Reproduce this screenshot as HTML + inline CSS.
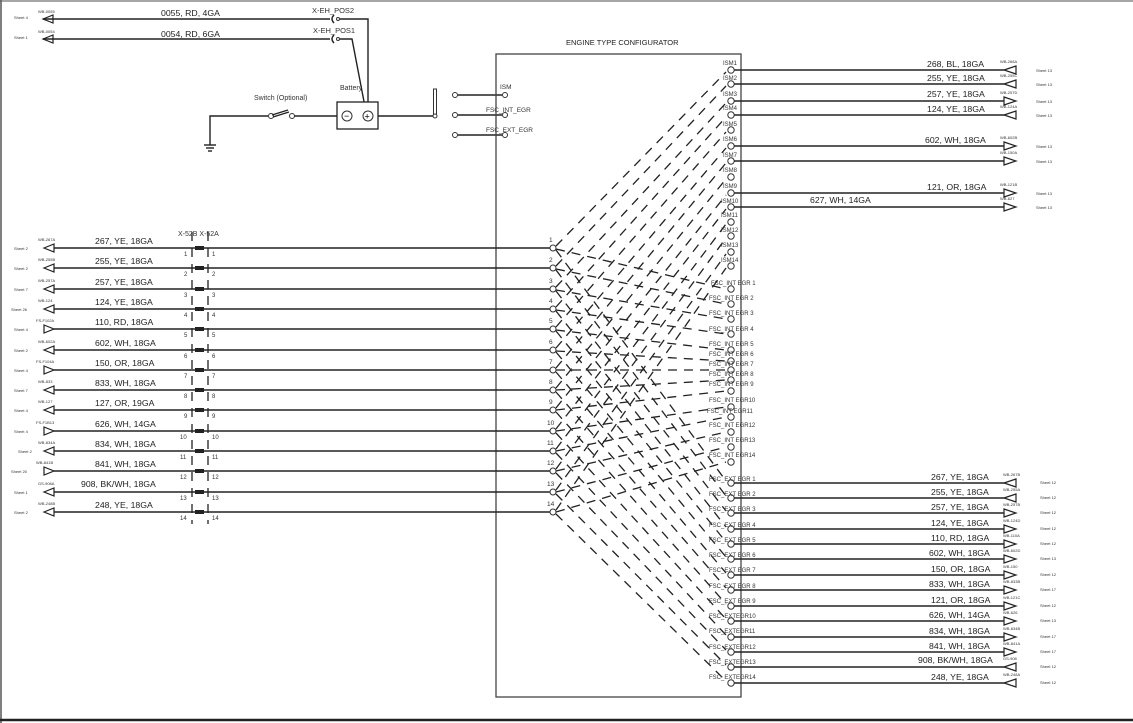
<!DOCTYPE html>
<html><head><meta charset="utf-8"><style>
html,body{margin:0;padding:0;background:#fff;}
svg{display:block;font-family:"Liberation Sans",sans-serif;}
.w{stroke:#222;stroke-width:1.4;fill:none}
.d{stroke:#222;stroke-width:1.3;stroke-dasharray:9,7;fill:none}
.c{fill:#fff;stroke:#333;stroke-width:1}
.t{font-size:8.7px;fill:#222}
.s{font-size:4px;fill:#333}
.p{font-size:6.5px;fill:#333}
.tr{fill:#fff;stroke:#222;stroke-width:1.2}
</style></head><body>
<svg width="1133" height="723" viewBox="0 0 1133 723" xmlns="http://www.w3.org/2000/svg">
<line x1="0" y1="1" x2="1133" y2="1" stroke="#888" stroke-width="1.5"/>
<line x1="1" y1="0" x2="1" y2="723" stroke="#555" stroke-width="1.5"/>
<line x1="0" y1="720" x2="1133" y2="720" stroke="#222" stroke-width="2.5"/>

<!-- top battery section -->
<text class="s" x="14" y="19">Sheet 4</text><text class="s" x="38" y="13">WB-0055</text>
<polygon class="tr" points="43,19 53,15 53,23"/><line class="w" x1="43" y1="19" x2="330" y2="19"/>
<text class="t" x="161" y="16">0055, RD, 4GA</text>
<text class="s" x="14" y="39">Sheet 1</text><text class="s" x="38" y="33">WB-0054</text>
<polygon class="tr" points="43,39 53,35 53,43"/><line class="w" x1="43" y1="39" x2="330" y2="39"/>
<text class="t" x="161" y="37">0054, RD, 6GA</text>
<text class="p" x="312" y="13" style="font-size:7.5px">X-EH_POS2</text>
<text class="p" x="313" y="33" style="font-size:7.5px">X-EH_POS1</text>
<path class="w" d="M334,15 Q330,19 334,23" stroke-width="1"/><circle class="c" cx="338" cy="19" r="1.5"/>
<path class="w" d="M334,35 Q330,39 334,43" stroke-width="1"/><circle class="c" cx="338" cy="39" r="1.5"/>
<polyline class="w" points="340,19 368,19 368,112"/>
<polyline class="w" points="340,39 352,39 366,112"/>
<text class="p" x="340" y="90" style="font-size:7px">Battery</text>
<rect x="337" y="102" width="41" height="27" fill="#fff" stroke="#222" stroke-width="1.3"/>
<circle class="c" cx="347" cy="116" r="5"/><text x="344" y="119" style="font-size:9px">−</text>
<circle class="c" cx="368" cy="116" r="5"/><text x="364.5" y="119.5" style="font-size:9px">+</text>
<line class="w" x1="378" y1="116" x2="435" y2="116"/>
<rect x="433.5" y="89" width="3" height="27" fill="#fff" stroke="#333"/>
<circle class="c" cx="435" cy="116" r="2"/>
<text class="p" x="254" y="100" style="font-size:7px">Switch (Optional)</text>
<polyline class="w" points="337,116 292,116"/>
<circle class="c" cx="292" cy="116" r="2.5"/><circle class="c" cx="271" cy="116" r="2.5"/>
<line class="w" x1="272" y1="115" x2="288" y2="110"/><line class="w" x1="273" y1="117" x2="289" y2="112"/>
<polyline class="w" points="268,116 210,116 210,145"/>
<line class="w" x1="204" y1="145" x2="216" y2="145"/><line class="w" x1="206" y1="148" x2="214" y2="148"/><line class="w" x1="208" y1="151" x2="212" y2="151"/>

<circle class="c" cx="455" cy="95" r="2.5"/><line class="w" x1="458" y1="95" x2="502" y2="95"/><circle class="c" cx="505" cy="95" r="2.5"/><text class="p" x="500" y="89">ISM</text>
<circle class="c" cx="455" cy="115" r="2.5"/><line class="w" x1="458" y1="115" x2="502" y2="115"/><circle class="c" cx="505" cy="115" r="2.5"/><text class="p" x="486" y="112">FSC_INT_EGR</text>
<circle class="c" cx="455" cy="135" r="2.5"/><line class="w" x1="458" y1="135" x2="502" y2="135"/><circle class="c" cx="505" cy="135" r="2.5"/><text class="p" x="486" y="132">FSC_EXT_EGR</text>

<!-- configurator box -->
<text x="566" y="45" style="font-size:7.5px;fill:#222">ENGINE TYPE CONFIGURATOR</text>
<rect x="496" y="54" width="245" height="643" fill="none" stroke="#444" stroke-width="1.3"/>

<g class="d">
<line x1="556" y1="246" x2="726" y2="72"/><line x1="556" y1="266" x2="726" y2="86"/><line x1="556" y1="287" x2="726" y2="103"/><line x1="556" y1="307" x2="726" y2="117"/><line x1="556" y1="327" x2="726" y2="132"/><line x1="556" y1="348" x2="726" y2="148"/><line x1="556" y1="368" x2="726" y2="163"/><line x1="556" y1="388" x2="726" y2="179"/><line x1="556" y1="408" x2="726" y2="195"/><line x1="556" y1="429" x2="726" y2="209"/><line x1="556" y1="449" x2="726" y2="224"/><line x1="556" y1="469" x2="726" y2="238"/><line x1="556" y1="490" x2="726" y2="254"/><line x1="556" y1="510" x2="726" y2="268"/>
<line x1="556" y1="249" x2="726" y2="289"/><line x1="556" y1="269" x2="726" y2="304"/><line x1="556" y1="290" x2="726" y2="319"/><line x1="556" y1="310" x2="726" y2="334"/><line x1="556" y1="330" x2="726" y2="350"/><line x1="556" y1="351" x2="726" y2="361"/><line x1="556" y1="370" x2="726" y2="370"/><line x1="556" y1="390" x2="726" y2="380"/><line x1="556" y1="410" x2="726" y2="391"/><line x1="556" y1="431" x2="726" y2="407"/><line x1="556" y1="451" x2="726" y2="417"/><line x1="556" y1="471" x2="726" y2="432"/><line x1="556" y1="492" x2="726" y2="447"/><line x1="556" y1="512" x2="726" y2="462"/>
<line x1="556" y1="250" x2="726" y2="481"/><line x1="556" y1="270" x2="726" y2="496"/><line x1="556" y1="291" x2="726" y2="511"/><line x1="556" y1="311" x2="726" y2="527"/><line x1="556" y1="331" x2="726" y2="542"/><line x1="556" y1="352" x2="726" y2="557"/><line x1="556" y1="372" x2="726" y2="573"/><line x1="556" y1="392" x2="726" y2="588"/><line x1="556" y1="412" x2="726" y2="604"/><line x1="556" y1="433" x2="726" y2="619"/><line x1="556" y1="453" x2="726" y2="635"/><line x1="556" y1="473" x2="726" y2="650"/><line x1="556" y1="494" x2="726" y2="665"/><line x1="556" y1="514" x2="726" y2="681"/>
</g>

<!-- left rows -->
<g>
<line class="d" x1="192" y1="232" x2="192" y2="524" stroke-dasharray="5,6"/>
<line class="d" x1="208" y1="232" x2="208" y2="524" stroke-dasharray="5,6"/>
<text class="p" x="178" y="236" style="font-size:7px">X-52B X-52A</text>
<line class="w" x1="54" y1="248" x2="550" y2="248"/><line class="w" x1="54" y1="268" x2="550" y2="268"/><line class="w" x1="54" y1="289" x2="550" y2="289"/><line class="w" x1="54" y1="309" x2="550" y2="309"/><line class="w" x1="54" y1="329" x2="550" y2="329"/><line class="w" x1="54" y1="350" x2="550" y2="350"/><line class="w" x1="54" y1="370" x2="550" y2="370"/><line class="w" x1="54" y1="390" x2="550" y2="390"/><line class="w" x1="54" y1="410" x2="550" y2="410"/><line class="w" x1="54" y1="431" x2="550" y2="431"/><line class="w" x1="54" y1="451" x2="550" y2="451"/><line class="w" x1="54" y1="471" x2="550" y2="471"/><line class="w" x1="54" y1="492" x2="550" y2="492"/><line class="w" x1="54" y1="512" x2="550" y2="512"/>
<g fill="#222">
<rect x="195" y="246" width="9" height="4"/><rect x="195" y="266" width="9" height="4"/><rect x="195" y="287" width="9" height="4"/><rect x="195" y="307" width="9" height="4"/><rect x="195" y="327" width="9" height="4"/><rect x="195" y="348" width="9" height="4"/><rect x="195" y="368" width="9" height="4"/><rect x="195" y="388" width="9" height="4"/><rect x="195" y="408" width="9" height="4"/><rect x="195" y="429" width="9" height="4"/><rect x="195" y="449" width="9" height="4"/><rect x="195" y="469" width="9" height="4"/><rect x="195" y="490" width="9" height="4"/><rect x="195" y="510" width="9" height="4"/>
</g>
<g class="tr">
<polygon points="44,248 54,244 54,252"/><polygon points="44,268 54,264 54,272"/><polygon points="44,289 54,285 54,293"/><polygon points="44,309 54,305 54,313"/><polygon points="44,325 54,329 44,333"/><polygon points="44,350 54,346 54,354"/><polygon points="44,366 54,370 44,374"/><polygon points="44,390 54,386 54,394"/><polygon points="44,410 54,406 54,414"/><polygon points="44,427 54,431 44,435"/><polygon points="44,451 54,447 54,455"/><polygon points="44,467 54,471 44,475"/><polygon points="44,492 54,488 54,496"/><polygon points="44,512 54,508 54,516"/>
</g>
<g class="t">
<text x="95" y="244">267, YE, 18GA</text><text x="95" y="264">255, YE, 18GA</text><text x="95" y="285">257, YE, 18GA</text><text x="95" y="305">124, YE, 18GA</text><text x="95" y="325">110, RD, 18GA</text><text x="95" y="346">602, WH, 18GA</text><text x="95" y="366">150, OR, 18GA</text><text x="95" y="386">833, WH, 18GA</text><text x="95" y="406">127, OR, 19GA</text><text x="95" y="427">626, WH, 14GA</text><text x="95" y="447">834, WH, 18GA</text><text x="95" y="467">841, WH, 18GA</text><text x="81" y="487">908, BK/WH, 18GA</text><text x="95" y="508">248, YE, 18GA</text>
</g>
<g class="s">
<text x="14" y="250">Sheet 2</text><text x="14" y="270">Sheet 2</text><text x="14" y="291">Sheet 7</text><text x="11" y="311">Sheet 26</text><text x="14" y="331">Sheet 4</text><text x="14" y="352">Sheet 2</text><text x="14" y="372">Sheet 4</text><text x="14" y="392">Sheet 7</text><text x="14" y="412">Sheet 4</text><text x="14" y="433">Sheet 4</text><text x="18" y="453">Sheet 2</text><text x="11" y="473">Sheet 20</text><text x="14" y="494">Sheet 1</text><text x="14" y="514">Sheet 2</text>
<text x="38" y="241">WB-267A</text><text x="38" y="261">WB-255B</text><text x="38" y="282">WB-257A</text><text x="38" y="302">WB-124</text><text x="36" y="322">FS-F102A</text><text x="38" y="343">WB-602A</text><text x="36" y="363">FS-F104A</text><text x="38" y="383">WB-833</text><text x="38" y="403">WB-127</text><text x="36" y="424">FS-F1B13</text><text x="38" y="444">WB-834A</text><text x="36" y="464">WB-841B</text><text x="38" y="485">GS-908A</text><text x="38" y="505">WB-248B</text>
</g>
<g class="p" style="font-size:6px">
<text x="184" y="256">1</text><text x="212" y="256">1</text><text x="184" y="276">2</text><text x="212" y="276">2</text><text x="184" y="297">3</text><text x="212" y="297">3</text><text x="184" y="317">4</text><text x="212" y="317">4</text><text x="184" y="337">5</text><text x="212" y="337">5</text><text x="184" y="358">6</text><text x="212" y="358">6</text><text x="184" y="378">7</text><text x="212" y="378">7</text><text x="184" y="398">8</text><text x="212" y="398">8</text><text x="184" y="418">9</text><text x="212" y="418">9</text><text x="180" y="439">10</text><text x="212" y="439">10</text><text x="180" y="459">11</text><text x="212" y="459">11</text><text x="180" y="479">12</text><text x="212" y="479">12</text><text x="180" y="500">13</text><text x="212" y="500">13</text><text x="180" y="520">14</text><text x="212" y="520">14</text>
</g>
<g class="c">
<circle cx="553" cy="248" r="3"/><circle cx="553" cy="268" r="3"/><circle cx="553" cy="289" r="3"/><circle cx="553" cy="309" r="3"/><circle cx="553" cy="329" r="3"/><circle cx="553" cy="350" r="3"/><circle cx="553" cy="370" r="3"/><circle cx="553" cy="390" r="3"/><circle cx="553" cy="410" r="3"/><circle cx="553" cy="431" r="3"/><circle cx="553" cy="451" r="3"/><circle cx="553" cy="471" r="3"/><circle cx="553" cy="492" r="3"/><circle cx="553" cy="512" r="3"/>
</g>
<g class="p">
<text x="549" y="242">1</text><text x="549" y="262">2</text><text x="549" y="283">3</text><text x="549" y="303">4</text><text x="549" y="323">5</text><text x="549" y="344">6</text><text x="549" y="364">7</text><text x="549" y="384">8</text><text x="549" y="404">9</text><text x="547" y="425">10</text><text x="547" y="445">11</text><text x="547" y="465">12</text><text x="547" y="486">13</text><text x="547" y="506">14</text>
</g>
</g>

<!-- right pins -->
<g class="c">
<circle cx="731" cy="70" r="3.2"/><circle cx="731" cy="84" r="3.2"/><circle cx="731" cy="101" r="3.2"/><circle cx="731" cy="115" r="3.2"/><circle cx="731" cy="130" r="3.2"/><circle cx="731" cy="146" r="3.2"/><circle cx="731" cy="161" r="3.2"/><circle cx="731" cy="177" r="3.2"/><circle cx="731" cy="193" r="3.2"/><circle cx="731" cy="207" r="3.2"/><circle cx="731" cy="222" r="3.2"/><circle cx="731" cy="236" r="3.2"/><circle cx="731" cy="252" r="3.2"/><circle cx="731" cy="266" r="3.2"/>
<circle cx="731" cy="289" r="3.2"/><circle cx="731" cy="304" r="3.2"/><circle cx="731" cy="319" r="3.2"/><circle cx="731" cy="334" r="3.2"/><circle cx="731" cy="350" r="3.2"/><circle cx="731" cy="361" r="3.2"/><circle cx="731" cy="370" r="3.2"/><circle cx="731" cy="380" r="3.2"/><circle cx="731" cy="391" r="3.2"/><circle cx="731" cy="407" r="3.2"/><circle cx="731" cy="417" r="3.2"/><circle cx="731" cy="432" r="3.2"/><circle cx="731" cy="447" r="3.2"/><circle cx="731" cy="462" r="3.2"/>
<circle cx="731" cy="483" r="3.2"/><circle cx="731" cy="498" r="3.2"/><circle cx="731" cy="513" r="3.2"/><circle cx="731" cy="529" r="3.2"/><circle cx="731" cy="544" r="3.2"/><circle cx="731" cy="559" r="3.2"/><circle cx="731" cy="575" r="3.2"/><circle cx="731" cy="590" r="3.2"/><circle cx="731" cy="606" r="3.2"/><circle cx="731" cy="621" r="3.2"/><circle cx="731" cy="637" r="3.2"/><circle cx="731" cy="652" r="3.2"/><circle cx="731" cy="667" r="3.2"/><circle cx="731" cy="683" r="3.2"/>
</g>
<g class="p" style="font-size:6px">
<text x="723" y="65">ISM1</text><text x="723" y="80">ISM2</text><text x="723" y="96">ISM3</text><text x="723" y="110">ISM4</text><text x="723" y="126">ISM5</text><text x="723" y="141">ISM6</text><text x="723" y="157">ISM7</text><text x="723" y="172">ISM8</text><text x="723" y="188">ISM9</text><text x="721" y="203">ISM10</text><text x="721" y="217">ISM11</text><text x="721" y="232">ISM12</text><text x="721" y="247">ISM13</text><text x="721" y="262">ISM14</text>
<text x="711" y="285">FSC_INT EGR 1</text><text x="709" y="300">FSC_INT EGR 2</text><text x="709" y="315">FSC_INT EGR 3</text><text x="709" y="331">FSC_INT EGR 4</text><text x="709" y="346">FSC_INT EGR 5</text><text x="709" y="356">FSC_INT EGR 6</text><text x="709" y="366">FSC_INT EGR 7</text><text x="709" y="376">FSC_INT EGR 8</text><text x="709" y="386">FSC_INT EGR 9</text><text x="709" y="402">FSC_INT EGR10</text><text x="707" y="413">FSC_INT EGR11</text><text x="709" y="427">FSC_INT EGR12</text><text x="709" y="442">FSC_INT EGR13</text><text x="709" y="457">FSC_INT EGR14</text>
<text x="709" y="481">FSC_EXT EGR 1</text><text x="709" y="496">FSC_EXT EGR 2</text><text x="709" y="511">FSC_EXT EGR 3</text><text x="709" y="527">FSC_EXT EGR 4</text><text x="709" y="542">FSC_EXT EGR 5</text><text x="709" y="557">FSC_EXT EGR 6</text><text x="709" y="572">FSC_EXT EGR 7</text><text x="709" y="588">FSC_EXT EGR 8</text><text x="709" y="603">FSC_EXT EGR 9</text><text x="709" y="618">FSC_EXTEGR10</text><text x="709" y="633">FSC_EXTEGR11</text><text x="709" y="649">FSC_EXTEGR12</text><text x="709" y="664">FSC_EXTEGR13</text><text x="709" y="679">FSC_EXTEGR14</text>
</g>

<g class="w">
<line x1="734" y1="70" x2="1004" y2="70"/><line x1="734" y1="84" x2="1004" y2="84"/><line x1="734" y1="101" x2="1004" y2="101"/><line x1="734" y1="115" x2="1004" y2="115"/><line x1="734" y1="146" x2="1004" y2="146"/><line x1="734" y1="161" x2="1004" y2="161"/><line x1="734" y1="193" x2="1004" y2="193"/><line x1="734" y1="207" x2="1004" y2="207"/>
<line x1="734" y1="483" x2="1004" y2="483"/><line x1="734" y1="498" x2="1004" y2="498"/><line x1="734" y1="513" x2="1004" y2="513"/><line x1="734" y1="529" x2="1004" y2="529"/><line x1="734" y1="544" x2="1004" y2="544"/><line x1="734" y1="559" x2="1004" y2="559"/><line x1="734" y1="575" x2="1004" y2="575"/><line x1="734" y1="590" x2="1004" y2="590"/><line x1="734" y1="606" x2="1004" y2="606"/><line x1="734" y1="621" x2="1004" y2="621"/><line x1="734" y1="637" x2="1004" y2="637"/><line x1="734" y1="652" x2="1004" y2="652"/><line x1="734" y1="667" x2="1004" y2="667"/><line x1="734" y1="683" x2="1004" y2="683"/>
</g>
<g class="tr">
<polygon points="1004,70 1016,66 1016,74"/><polygon points="1004,84 1016,80 1016,88"/><polygon points="1004,97 1016,101 1004,105"/><polygon points="1004,115 1016,111 1016,119"/><polygon points="1004,142 1016,146 1004,150"/><polygon points="1004,157 1016,161 1004,165"/><polygon points="1004,189 1016,193 1004,197"/><polygon points="1004,203 1016,207 1004,211"/>
<polygon points="1004,483 1016,479 1016,487"/><polygon points="1004,498 1016,494 1016,502"/><polygon points="1004,509 1016,513 1004,517"/><polygon points="1004,525 1016,529 1004,533"/><polygon points="1004,540 1016,544 1004,548"/><polygon points="1004,555 1016,559 1004,563"/><polygon points="1004,571 1016,575 1004,579"/><polygon points="1004,586 1016,590 1004,594"/><polygon points="1004,602 1016,606 1004,610"/><polygon points="1004,617 1016,621 1004,625"/><polygon points="1004,633 1016,637 1004,641"/><polygon points="1004,648 1016,652 1004,656"/><polygon points="1004,667 1016,663 1016,671"/><polygon points="1004,683 1016,679 1016,687"/>
</g>
<g class="t">
<text x="927" y="67">268, BL, 18GA</text><text x="927" y="81">255, YE, 18GA</text><text x="927" y="97">257, YE, 18GA</text><text x="927" y="112">124, YE, 18GA</text><text x="925" y="143">602, WH, 18GA</text><text x="927" y="190">121, OR, 18GA</text><text x="810" y="203">627, WH, 14GA</text>
<text x="931" y="480">267, YE, 18GA</text><text x="931" y="495">255, YE, 18GA</text><text x="931" y="510">257, YE, 18GA</text><text x="931" y="526">124, YE, 18GA</text><text x="931" y="541">110, RD, 18GA</text><text x="929" y="556">602, WH, 18GA</text><text x="931" y="572">150, OR, 18GA</text><text x="929" y="587">833, WH, 18GA</text><text x="931" y="603">121, OR, 18GA</text><text x="929" y="618">626, WH, 14GA</text><text x="929" y="634">834, WH, 18GA</text><text x="929" y="649">841, WH, 18GA</text><text x="918" y="663">908, BK/WH, 18GA</text><text x="931" y="680">248, YE, 18GA</text>
</g>
<g class="s">
<text x="1000" y="63">WB-268A</text><text x="1000" y="77">WB-255C</text><text x="1000" y="94">WB-257D</text><text x="1000" y="108">WB-124A</text><text x="1000" y="139">WB-602B</text><text x="1000" y="154">WB-150A</text><text x="1000" y="186">WB-121B</text><text x="1000" y="200">WB-627</text>
<text x="1036" y="72">Sheet 13</text><text x="1036" y="86">Sheet 13</text><text x="1036" y="103">Sheet 13</text><text x="1036" y="117">Sheet 13</text><text x="1036" y="148">Sheet 13</text><text x="1036" y="163">Sheet 13</text><text x="1036" y="195">Sheet 13</text><text x="1036" y="209">Sheet 13</text>
<text x="1003" y="476">WB-267B</text><text x="1003" y="491">WB-255A</text><text x="1003" y="506">WB-257B</text><text x="1003" y="522">WB-124D</text><text x="1003" y="537">WB-110A</text><text x="1003" y="552">WB-602D</text><text x="1003" y="568">WB-150</text><text x="1003" y="583">WB-833B</text><text x="1003" y="599">WB-121C</text><text x="1003" y="614">WB-626</text><text x="1003" y="630">WB-834B</text><text x="1003" y="645">WB-841A</text><text x="1003" y="660">GS-908</text><text x="1003" y="676">WB-248A</text>
<text x="1040" y="484">Sheet 12</text><text x="1040" y="499">Sheet 12</text><text x="1040" y="514">Sheet 12</text><text x="1040" y="530">Sheet 12</text><text x="1040" y="545">Sheet 12</text><text x="1040" y="560">Sheet 13</text><text x="1040" y="576">Sheet 12</text><text x="1040" y="591">Sheet 17</text><text x="1040" y="607">Sheet 12</text><text x="1040" y="622">Sheet 13</text><text x="1040" y="638">Sheet 17</text><text x="1040" y="653">Sheet 17</text><text x="1040" y="668">Sheet 12</text><text x="1040" y="684">Sheet 12</text>
</g>
</svg>
</body></html>
